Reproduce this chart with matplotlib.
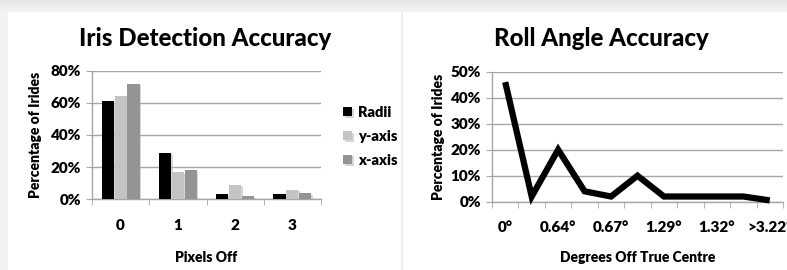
import numpy as np
import matplotlib
matplotlib.use("Agg")
import matplotlib.pyplot as plt
from matplotlib import patheffects as pe
from matplotlib.ticker import FixedLocator, FuncFormatter

plt.rcParams['font.family'] = ['Lato', 'DejaVu Sans']

# ---- data ----
pixel_categories = ["0", "1", "2", "3"]
radii = [61, 29, 3, 3]
y_axis = [64, 17, 9, 6]
x_axis = [72, 18, 2, 4]

roll_labels = ["0°", "", "0.64°", "", "0.67°", "", "1.29°", "", "1.32°", "", ">3.22°"]
roll_values = [46, 2, 20, 4, 2, 10, 2, 2, 2, 2, 0.5]

W, H = 787, 270
fig = plt.figure(figsize=(W / 100, H / 100), dpi=100)
fig.patch.set_facecolor("white")

# background (screenshot frame)
bg = fig.add_axes([0, 0, 1, 1], zorder=-10)
img = np.ones((H, W, 3))
top = 12
for r in range(top):
    v = 0.90 + 0.06 * r / top
    img[r, :, :] = v
img[top:, :8, :] = 0.95
img[top:, 401:403, :] = 0.94
bg.imshow(img, aspect="auto", extent=[0, W, H, 0])
bg.set_axis_off()

def px_axes(x0, x1, ytop, ybot):
    return fig.add_axes([x0 / W, (H - ybot) / H, (x1 - x0) / W, (ybot - ytop) / H])

grid_c = "#a6a6a6"
WT = "heavy"
shadow = [pe.SimplePatchShadow(offset=(1.2, -1.2), shadow_rgbFace="#bbbbbb", alpha=0.6), pe.Normal()]

def style(ax, n):
    ax.set_xticks(np.arange(n + 1) - 0.5, minor=True)
    ax.tick_params(axis="x", which="major", length=0, pad=14, labelsize=11)
    ax.tick_params(axis="x", which="minor", length=4, color=grid_c, direction="out")
    ax.tick_params(axis="y", length=4, color=grid_c, labelsize=11, pad=4)
    ax.grid(axis="y", color=grid_c, linewidth=1.0, zorder=0)
    for s in ["top", "right"]:
        ax.spines[s].set_visible(False)
    for s in ["left", "bottom"]:
        ax.spines[s].set_color(grid_c)
        ax.spines[s].set_linewidth(1.0)
    for t in ax.get_xticklabels() + ax.get_yticklabels():
        t.set_fontweight(WT)
    ax.yaxis.set_major_formatter(FuncFormatter(lambda v, p: f"{int(v)}%"))

# ---- left chart ----
ax1 = px_axes(92, 321, 70.7, 199.3)
n = len(pixel_categories)
idx = np.arange(n)
bw = 0.21
series = [("Radii", radii, "#000000"), ("y-axis", y_axis, "#c4c4c4"), ("x-axis", x_axis, "#949494")]
handles = []
for k, (name, vals, col) in enumerate(series):
    b = ax1.bar(idx + (k - 1) * 0.225, vals, bw, color=col, label=name, zorder=3)
    for p in b:
        p.set_path_effects(shadow)
    handles.append(b)
ax1.set_xlim(-0.5, n - 0.5)
ax1.set_ylim(0, 80)
ax1.yaxis.set_major_locator(FixedLocator([0, 20, 40, 60, 80]))
ax1.set_xticks(idx)
ax1.set_xticklabels(pixel_categories)
style(ax1, n)
ax1.set_xlabel("Pixels Off", fontsize=10, fontweight=WT, labelpad=14)
ax1.set_ylabel("Percentage of Irides", fontsize=10, fontweight=WT, labelpad=6)
fig.text(205 / W, 1 - 39 / H, "Iris Detection Accuracy", ha="center", va="center",
         fontsize=17.3, fontweight="black")
leg = ax1.legend(handles=handles, loc="upper left", bbox_to_anchor=(1.04, 0.83), frameon=False,
                 handlelength=0.6, handleheight=0.6, handletextpad=0.4, labelspacing=0.75,
                 prop={"size": 10.5, "weight": WT})

# ---- right chart ----
ax2 = px_axes(492, 783, 71.7, 201.7)
m = len(roll_values)
ridx = np.arange(m)
ax2.plot(ridx, roll_values, color="black", linewidth=4.5, solid_joinstyle="miter",
         solid_capstyle="butt", zorder=3, clip_on=False)
ax2.set_xlim(-0.5, m - 0.5)
ax2.set_ylim(0, 50)
ax2.yaxis.set_major_locator(FixedLocator([0, 10, 20, 30, 40, 50]))
ax2.set_xticks(ridx)
ax2.set_xticklabels(roll_labels)
style(ax2, m)
ax2.set_xlabel("Degrees Off True Centre", fontsize=10, fontweight=WT, labelpad=12)
ax2.set_ylabel("Percentage of Irides", fontsize=10, fontweight=WT, labelpad=4)
fig.text(601 / W, 1 - 39 / H, "Roll Angle Accuracy", ha="center", va="center",
         fontsize=17.3, fontweight="black")

fig.savefig("out.png", dpi=100, facecolor="white")
